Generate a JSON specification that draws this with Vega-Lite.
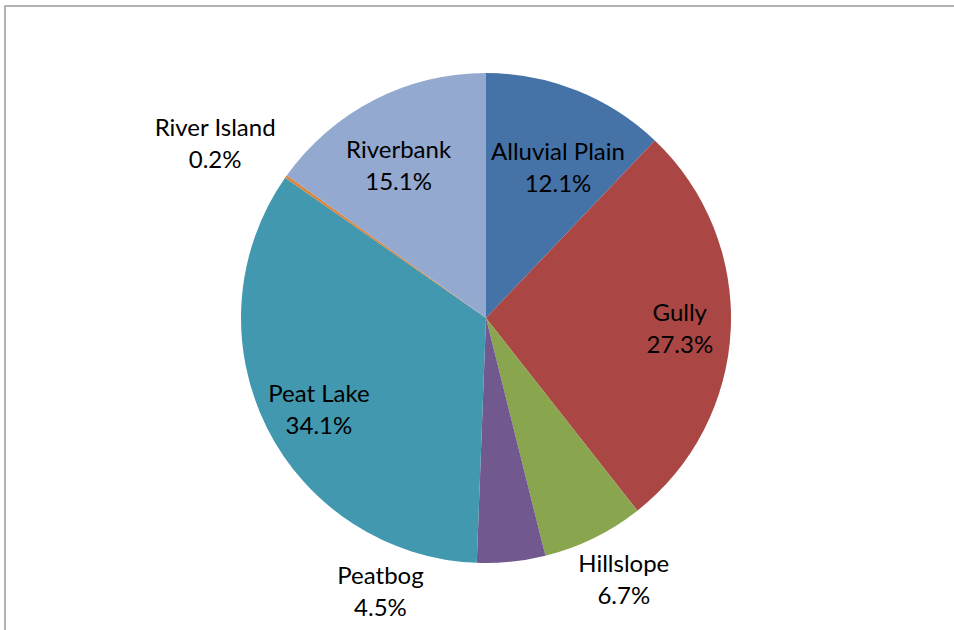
{
  "$schema": "https://vega.github.io/schema/vega-lite/v6.json",
  "width": 949,
  "height": 624,
  "autosize": {"type": "none"},
  "padding": {"left": 5, "top": 6, "right": 0, "bottom": 0},
  "background": "white",
  "config": {"view": {"stroke": null}},
  "data": {
    "values": [
      {"idx": 1, "cat": "Alluvial Plain", "pct": 12.1},
      {"idx": 2, "cat": "Gully", "pct": 27.3},
      {"idx": 3, "cat": "Hillslope", "pct": 6.7},
      {"idx": 4, "cat": "Peatbog", "pct": 4.5},
      {"idx": 5, "cat": "Peat Lake", "pct": 34.1},
      {"idx": 6, "cat": "River Island", "pct": 0.2},
      {"idx": 7, "cat": "Riverbank", "pct": 15.1}
    ]
  },
  "transform": [
    {"stack": "pct", "groupby": [], "sort": [{"field": "idx"}], "as": ["t0", "t1"]},
    {"calculate": "(datum.t0 + datum.t1) / 2", "as": "mid"},
    {"calculate": "datum.cat + '\\n' + format(datum.pct, '.1f') + '%'", "as": "label"}
  ],
  "layer": [
    {
      "transform": [{"filter": "datum.idx == 1"}],
      "mark": {"type": "rect", "fill": null, "stroke": "#9a9a9a", "strokeWidth": 1.5, "strokeDash": [949, 1573, 624], "strokeCap": "square"}
    },
    {
      "mark": {"type": "arc", "outerRadius": 245, "xOffset": 6.5},
      "encoding": {
        "theta": {"field": "t0", "type": "quantitative", "scale": {"domain": [0, 100]}},
        "theta2": {"field": "t1"},
        "color": {
          "field": "cat",
          "type": "nominal",
          "legend": null,
          "scale": {
            "domain": ["Alluvial Plain", "Gully", "Hillslope", "Peatbog", "Peat Lake", "River Island", "Riverbank"],
            "range": ["#4572A7", "#AA4643", "#89A54E", "#71588F", "#4198AF", "#DB843D", "#93A9CF"]
          }
        }
      }
    },
    {
      "transform": [{"filter": "datum.cat == 'Alluvial Plain'"}],
      "mark": {"type": "text", "radius": 167, "xOffset": 6.5, "dx": 10, "dy": -10, "align": "center", "baseline": "middle", "font": "Lato", "fontSize": 24, "lineHeight": 32, "lineBreak": "\n", "color": "#000000"},
      "encoding": {"theta": {"field": "mid", "type": "quantitative", "scale": {"domain": [0, 100]}}, "text": {"field": "label"}}
    },
    {
      "transform": [{"filter": "datum.cat == 'Gully'"}],
      "mark": {"type": "text", "radius": 194, "xOffset": 6.5, "dx": 0, "dy": -13, "align": "center", "baseline": "middle", "font": "Lato", "fontSize": 24, "lineHeight": 32, "lineBreak": "\n", "color": "#000000"},
      "encoding": {"theta": {"field": "mid", "type": "quantitative", "scale": {"domain": [0, 100]}}, "text": {"field": "label"}}
    },
    {
      "transform": [{"filter": "datum.cat == 'Hillslope'"}],
      "mark": {"type": "text", "radius": 295, "xOffset": 6.5, "dx": 8, "dy": -18, "align": "center", "baseline": "middle", "font": "Lato", "fontSize": 24, "lineHeight": 32, "lineBreak": "\n", "color": "#000000"},
      "encoding": {"theta": {"field": "mid", "type": "quantitative", "scale": {"domain": [0, 100]}}, "text": {"field": "label"}}
    },
    {
      "transform": [{"filter": "datum.cat == 'Peatbog'"}],
      "mark": {"type": "text", "radius": 275, "xOffset": 6.5, "dx": -134, "dy": -15, "align": "center", "baseline": "middle", "font": "Lato", "fontSize": 24, "lineHeight": 32, "lineBreak": "\n", "color": "#000000"},
      "encoding": {"theta": {"field": "mid", "type": "quantitative", "scale": {"domain": [0, 100]}}, "text": {"field": "label"}}
    },
    {
      "transform": [{"filter": "datum.cat == 'Peat Lake'"}],
      "mark": {"type": "text", "radius": 190, "xOffset": 6.5, "dx": 3, "dy": -8, "align": "center", "baseline": "middle", "font": "Lato", "fontSize": 24, "lineHeight": 32, "lineBreak": "\n", "color": "#000000"},
      "encoding": {"theta": {"field": "mid", "type": "quantitative", "scale": {"domain": [0, 100]}}, "text": {"field": "label"}}
    },
    {
      "transform": [{"filter": "datum.cat == 'River Island'"}],
      "mark": {"type": "text", "radius": 322, "xOffset": 6.5, "dx": -8, "dy": -3, "align": "center", "baseline": "middle", "font": "Lato", "fontSize": 24, "lineHeight": 32, "lineBreak": "\n", "color": "#000000"},
      "encoding": {"theta": {"field": "mid", "type": "quantitative", "scale": {"domain": [0, 100]}}, "text": {"field": "label"}}
    },
    {
      "transform": [{"filter": "datum.cat == 'Riverbank'"}],
      "mark": {"type": "text", "radius": 176, "xOffset": 6.5, "dx": -7, "dy": -10, "align": "center", "baseline": "middle", "font": "Lato", "fontSize": 24, "lineHeight": 32, "lineBreak": "\n", "color": "#000000"},
      "encoding": {"theta": {"field": "mid", "type": "quantitative", "scale": {"domain": [0, 100]}}, "text": {"field": "label"}}
    }
  ]
}
